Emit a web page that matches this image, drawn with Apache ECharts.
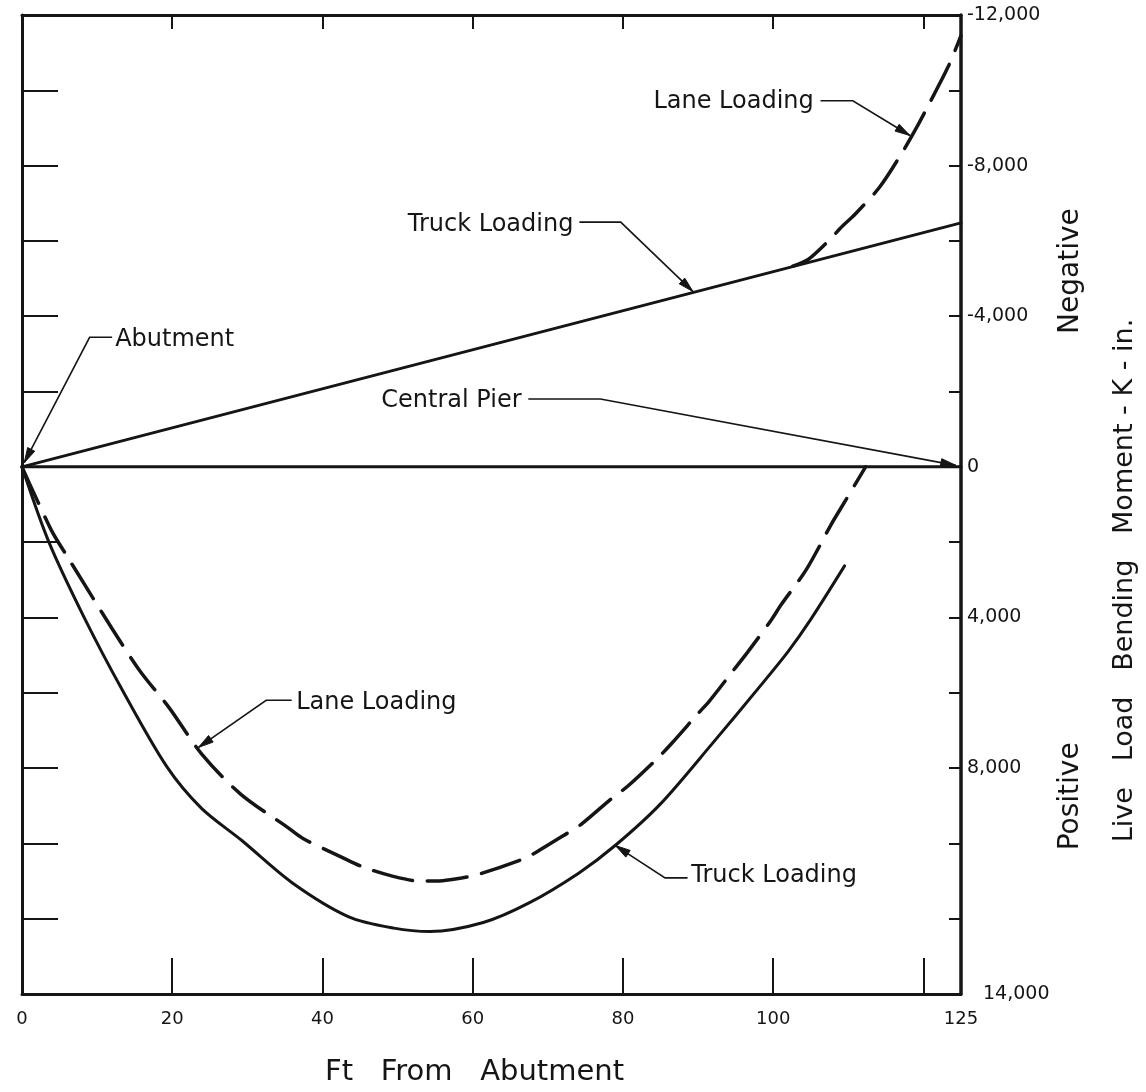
<!DOCTYPE html>
<html>
<head>
<meta charset="utf-8">
<style>
  html, body { margin: 0; padding: 0; background: #fff; }
  #chart { width: 1146px; height: 1092px; }
</style>
<script src="https://cdn.jsdelivr.net/npm/echarts@6/dist/echarts.min.js"></script>
</head>
<body>
<div id="chart"></div>
<script>
// x = ft from abutment, y = moment in K-in (negative moment is drawn upward)
const truckNegative = [[0, 0], [125, -6480]];
const laneNegative = [
  [102.6, -5330], [104.6, -5500], [107, -5930], [109.3, -6410], [110.9, -6710],
  [114.2, -7440], [117.3, -8390], [119, -8980], [120.6, -9580], [123.3, -10630], [125, -11450]
];
const pierLine = [[0, 0], [125, 0]];
const truckPositive = [
  [0, 0], [3.5, 1960], [8.2, 3970], [13.5, 5980], [19.3, 7970], [23.9, 9070],
  [29.3, 9930], [36, 11050], [43.5, 11950], [49.5, 12250], [54.3, 12340], [61.4, 12100],
  [67.5, 11580], [74.1, 10790], [79, 10050], [85, 8950], [91.8, 7370], [98.4, 5790],
  [102, 4900], [105, 4050], [109.5, 2630]
];
const lanePositive = [
  [0, 0], [3.9, 1680], [5.9, 2340], [12, 4300], [15.7, 5420], [19.6, 6400], [23.9, 7620],
  [29.1, 8690], [35.4, 9580], [37.4, 9870], [42.6, 10370], [45.3, 10620], [49.3, 10870],
  [53, 11000], [56, 10990], [58.5, 10920], [60.8, 10820], [66.9, 10400], [68.4, 10240],
  [72.1, 9790], [74.4, 9500], [78.6, 8790], [80.7, 8470], [84.6, 7740], [86.5, 7340],
  [90, 6550], [91.5, 6220], [94.6, 5430], [96.6, 4920], [99.7, 4080], [101.1, 3650],
  [104.4, 2730], [107.8, 1500], [109, 1100], [112.3, 0]
];

const xLabels = [0, 20, 40, 60, 80, 100, 125];
const yLabels = [-12000, -8000, -4000, 0, 4000, 8000, 14000];

// callouts: text anchor, then leader polyline that ends at the arrow tip
const callouts = [
  { text: 'Abutment', at: [12.4, -3370], align: 'left', leader: [[12.0, -3440], [9.0, -3440], [0.3, -110]] },
  { text: 'Truck Loading', at: [73.4, -6420], align: 'right', leader: [[74.2, -6500], [79.7, -6500], [89.3, -4660]] },
  { text: 'Lane Loading', at: [105.4, -9700], align: 'right', leader: [[106.3, -9722], [110.6, -9722], [118.2, -8800]] },
  { text: 'Central Pier', at: [66.5, -1760], align: 'right', leader: [[67.4, -1800], [77.0, -1800], [124.3, -40]] },
  { text: 'Lane Loading', at: [36.5, 6270], align: 'left', leader: [[35.9, 6200], [32.5, 6200], [23.5, 7450]] },
  { text: 'Truck Loading', at: [89.1, 10850], align: 'left', leader: [[88.6, 10917], [85.6, 10917], [79.0, 10058]] }
];
const sideLabels = [['Negative', -5200], ['Positive', 8750]];

const ink = '#151515';
const font = 'DejaVu Sans';

const fmt = (v) => (v < 0 ? '-' : '') + String(Math.abs(v)).replace(/\B(?=(\d{3})+(?!\d))/g, ',');

const chart = echarts.init(document.getElementById('chart'));

const lineSeries = (data, dashed, smooth) => ({
  type: 'line',
  data: data,
  symbol: 'none',
  smooth: smooth,
  silent: true,
  lineStyle: {
    color: ink,
    width: dashed ? 3.5 : 3,
    type: dashed ? [40, 15] : 'solid',
    cap: 'round'
  }
});

chart.setOption({
  animation: false,
  backgroundColor: '#fff',
  textStyle: { fontFamily: font, color: ink },
  grid: { left: 22, right: 178, top: 15, bottom: 87 },
  xAxis: [
    {
      type: 'value',
      position: 'bottom',
      min: 0,
      max: 125,
      interval: 20,
      name: 'Ft   From   Abutment',
      nameLocation: 'middle',
      nameGap: 64,
      nameTextStyle: { fontSize: 29, color: ink, padding: [0, 34, 0, 0] },
      axisLine: { onZero: false, lineStyle: { color: ink, width: 3 } },
      axisTick: { inside: true, length: 36, lineStyle: { color: ink, width: 2 } },
      axisLabel: {
        fontSize: 18,
        color: ink,
        margin: 16,
        formatter: (v) => (xLabels.indexOf(v) >= 0 ? String(v) : '')
      },
      splitLine: { show: false }
    },
    {
      type: 'value',
      position: 'top',
      min: 0,
      max: 125,
      interval: 20,
      axisLine: { onZero: false, lineStyle: { color: ink, width: 3 } },
      axisTick: { inside: true, length: 14, lineStyle: { color: ink, width: 2 } },
      axisLabel: { show: false },
      splitLine: { show: false }
    }
  ],
  yAxis: [
    {
      type: 'value',
      position: 'left',
      inverse: true,
      min: -12000,
      max: 14000,
      interval: 2000,
      axisLine: { onZero: false, lineStyle: { color: ink, width: 3 } },
      axisTick: { inside: true, length: 36, lineStyle: { color: ink, width: 2 } },
      axisLabel: { show: false },
      splitLine: { show: false }
    },
    {
      type: 'value',
      position: 'right',
      inverse: true,
      min: -12000,
      max: 14000,
      interval: 2000,
      name: 'Live   Load   Bending   Moment - K - in.',
      nameLocation: 'middle',
      nameRotate: 90,
      nameGap: 150,
      nameTextStyle: { fontSize: 27, color: ink, padding: [0, 152, 0, 0] },
      axisLine: { onZero: false, lineStyle: { color: ink, width: 3.5 } },
      axisTick: { inside: true, length: 12, lineStyle: { color: ink, width: 2 } },
      axisLabel: {
        fontSize: 19,
        color: ink,
        margin: 6,
        formatter: (v) => {
          if (yLabels.indexOf(v) < 0) return '';
          return v === 14000 ? '{far|' + fmt(v) + '}' : fmt(v);
        },
        rich: { far: { fontSize: 19, color: ink, padding: [0, 0, 0, 16] } }
      },
      splitLine: { show: false }
    }
  ],
  series: [
    lineSeries(pierLine, false, false),
    lineSeries(truckNegative, false, false),
    lineSeries(laneNegative, true, 0.3),
    lineSeries(truckPositive, false, 0.3),
    lineSeries(lanePositive, true, 0.3)
  ]
});

// callout texts, leaders and arrowheads placed through the axes
const toPx = (p) => chart.convertToPixel({ gridIndex: 0 }, p);
const elements = [];
callouts.forEach((c) => {
  const p = toPx(c.at);
  elements.push({
    type: 'text',
    x: p[0],
    y: p[1],
    silent: true,
    style: { text: c.text, font: '24px "' + font + '"', fill: ink, align: c.align, verticalAlign: 'middle' }
  });
  const pts = c.leader.map(toPx);
  elements.push({
    type: 'polyline',
    silent: true,
    shape: { points: pts },
    style: { stroke: ink, lineWidth: 1.6, fill: null }
  });
  const tip = pts[pts.length - 1];
  const prev = pts[pts.length - 2];
  const ang = Math.atan2(tip[1] - prev[1], tip[0] - prev[0]);
  const len = 15;
  const half = 4;
  const bx = tip[0] - len * Math.cos(ang);
  const by = tip[1] - len * Math.sin(ang);
  elements.push({
    type: 'polygon',
    silent: true,
    shape: {
      points: [
        tip,
        [bx + half * Math.sin(ang), by - half * Math.cos(ang)],
        [bx - half * Math.sin(ang), by + half * Math.cos(ang)]
      ]
    },
    style: { fill: ink, stroke: ink, lineWidth: 1 }
  });
});

const rightEdge = toPx([125, 0])[0];
sideLabels.forEach(([text, v]) => {
  const p = toPx([125, v]);
  elements.push({
    type: 'text',
    x: rightEdge + 110,
    y: p[1],
    rotation: Math.PI / 2,
    silent: true,
    style: { text: text, font: '28px "' + font + '"', fill: ink, align: 'center', verticalAlign: 'middle' }
  });
});

chart.setOption({ graphic: elements });
</script>
</body>
</html>
